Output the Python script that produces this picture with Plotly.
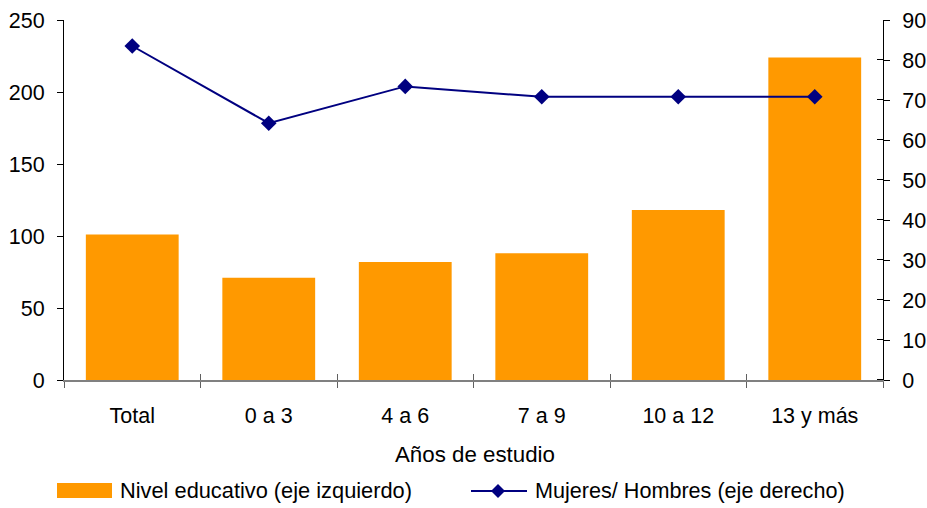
import plotly.graph_objects as go

# Años de estudio
categories = ["Total", "0 a 3", "4 a 6", "7 a 9", "10 a 12", "13 y más"]
# Nivel educativo (eje izquierdo)
nivel_educativo = [101, 71, 82, 88, 118, 224]
# Mujeres/ Hombres (eje derecho)
mujeres_hombres = [83.5, 64.2, 73.4, 70.8, 70.8, 70.8]

left_ticks = [0, 50, 100, 150, 200, 250]
right_ticks = [0, 10, 20, 30, 40, 50, 60, 70, 80, 90]

ORANGE = "#FF9900"
NAVY = "#000080"
FONT = "Liberation Sans, Arial, sans-serif"

W, H = 927, 508
ML, MR, MT, MB = 64, 44, 20, 128
PW, PH = W - ML - MR, H - MT - MB


def px(x):
    return (x - ML) / PW


def py(y):
    return (H - MB - y) / PH


idx = list(range(len(categories)))
bounds = [i - 0.5 for i in range(len(categories) + 1)]

fig = go.Figure()
fig.add_trace(go.Bar(
    x=categories, y=nivel_educativo, marker_color=ORANGE, marker_line_width=0,
    width=0.68, xaxis="x", yaxis="y", showlegend=False,
))
fig.add_trace(go.Scatter(
    x=idx, y=mujeres_hombres, mode="lines+markers",
    line=dict(color=NAVY, width=2),
    marker=dict(symbol="diamond", size=12, color=NAVY),
    xaxis="x3", yaxis="y2", showlegend=False,
))

# legend drawn by hand: wide orange swatch and line-with-diamond swatch
shapes = [
    dict(type="rect", xref="paper", yref="paper",
         x0=px(57), x1=px(112), y0=py(483), y1=py(498),
         fillcolor=ORANGE, line_width=0),
    dict(type="line", xref="paper", yref="paper",
         x0=px(471), x1=px(527), y0=py(491), y1=py(491),
         line=dict(color=NAVY, width=2)),
    dict(type="path", xref="paper", yref="paper",
         path=(f"M {px(491)} {py(491)} L {px(498)} {py(484)} "
               f"L {px(505)} {py(491)} L {px(498)} {py(498)} Z"),
         fillcolor=NAVY, line_width=0),
]

annotations = [
    dict(text="Años de estudio", xref="paper", yref="paper",
         x=px(475), y=py(454), xanchor="center", yanchor="middle",
         showarrow=False, font=dict(size=22.3, color="black", family=FONT)),
    dict(text="Nivel educativo (eje izquierdo)", xref="paper", yref="paper",
         x=px(118), y=py(490), xanchor="left", yanchor="middle",
         showarrow=False, font=dict(size=21.8, color="black", family=FONT)),
    dict(text="Mujeres/ Hombres (eje derecho)", xref="paper", yref="paper",
         x=px(533), y=py(490), xanchor="left", yanchor="middle",
         showarrow=False, font=dict(size=21.6, color="black", family=FONT)),
]

fig.update_layout(
    width=W, height=H,
    margin=dict(l=ML, r=MR, t=MT, b=MB, pad=0, autoexpand=False),
    paper_bgcolor="white", plot_bgcolor="white",
    font=dict(family=FONT, size=21.5, color="black"),
    bargap=0.32,
    shapes=shapes,
    annotations=annotations,
    xaxis=dict(
        type="category", categoryorder="array", categoryarray=categories,
        range=[-0.5, len(categories) - 0.5], automargin=False,
        showline=True, linecolor="#808080", linewidth=2,
        tickson="boundaries", ticks="outside", ticklen=6, tickcolor="#606060",
        tickwidth=1, showgrid=False, zeroline=False,
        ticklabelstandoff=15,
    ),
    xaxis3=dict(
        overlaying="x", anchor="y", range=[-0.5, len(categories) - 0.5],
        tickmode="array", tickvals=bounds, ticks="inside", ticklen=6,
        tickcolor="#606060", showticklabels=False, showline=False,
        showgrid=False, zeroline=False, automargin=False,
    ),
    yaxis=dict(
        range=[0, 250], tickmode="array", tickvals=left_ticks,
        showline=True, linecolor="black", linewidth=1, automargin=False,
        ticks="outside", ticklen=6, tickcolor="black",
        showgrid=False, zeroline=False, ticklabelstandoff=8,
    ),
    yaxis2=dict(
        overlaying="y", side="right", anchor="x", automargin=False,
        range=[0, 90], tickmode="array", tickvals=right_ticks,
        showline=True, linecolor="black", linewidth=1,
        ticks="outside", ticklen=6, tickcolor="black",
        minor=dict(tick0=0.01, dtick=10, ticks="inside", ticklen=6,
                   tickcolor="black", showgrid=False),
        showgrid=False, zeroline=False, ticklabelstandoff=8,
    ),
)

fig.write_html("out.html")
